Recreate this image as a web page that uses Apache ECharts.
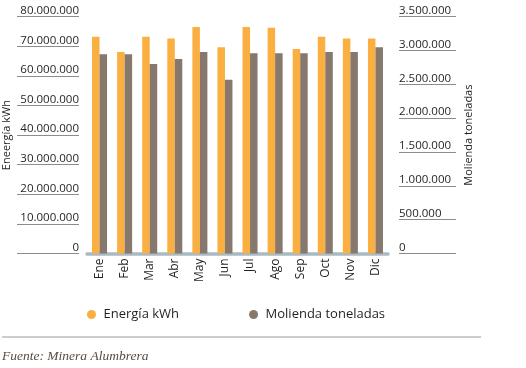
<!DOCTYPE html>
<html>
<head>
<meta charset="utf-8">
<script src="https://cdn.jsdelivr.net/npm/echarts@6/dist/echarts.min.js"></script>
<style>html,body{margin:0;padding:0;background:#fff;}#c{width:526px;height:368px;}</style>
</head>
<body>
<div id="c"></div>
<script>
const months = ['Ene','Feb','Mar','Abr','May','Jun','Jul','Ago','Sep','Oct','Nov','Dic'];
const energiaKWh = [73200000, 68100000, 73200000, 72600000, 76500000, 69700000, 76500000, 76300000, 69100000, 73200000, 72600000, 72600000];
const moliendaTon = [2944000, 2944000, 2800000, 2875000, 2978000, 2569000, 2959000, 2959000, 2959000, 2978000, 2978000, 3048000];
const seriesNames = ['Energía kWh', 'Molienda toneladas'];
const leftAxisName = 'Eneergía kWh';
const rightAxisName = 'Molienda toneladas';
const sourceNote = 'Fuente: Minera Alumbrera';

const fmt = v => String(v).replace(/\B(?=(\d{3})+(?!\d))/g, '.');
const FONT = 'Open Sans';
const TXT = '#231f20';
const chart = echarts.init(document.getElementById('c'), null, {renderer: 'canvas'});
chart.setOption({
  animation: false,
  textStyle: {fontFamily: FONT},
  grid: {left: 87, right: 138, top: 16.7, bottom: 114.5, containLabel: false, outerBoundsMode: 'none'},
  title: {
    text: sourceNote, left: 2, top: 349, padding: 0,
    textStyle: {fontFamily: 'Liberation Serif', fontStyle: 'italic', fontWeight: 'normal', fontSize: 13.5, color: '#5b4a40'}
  },
  legend: {
    data: seriesNames, top: 303, left: 82, icon: 'circle', itemWidth: 14, itemHeight: 9, itemGap: 70,
    textStyle: {fontSize: 13, color: TXT, fontFamily: FONT}
  },
  graphic: [{type: 'line', shape: {x1: 2, y1: 337, x2: 481, y2: 337}, style: {stroke: '#9a9a9a', lineWidth: 1}}],
  xAxis: {
    type: 'category', data: months,
    axisLine: {lineStyle: {color: '#a9bac2', width: 3.5}},
    axisTick: {show: false},
    axisLabel: {rotate: 90, margin: 5, fontSize: 12, color: TXT, fontFamily: FONT}
  },
  yAxis: [{
    type: 'value', position: 'left', offset: 8, min: 0, max: 80000000, interval: 10000000,
    name: leftAxisName, nameLocation: 'middle', nameRotate: 90, nameGap: 67, nameMoveOverlap: false,
    nameTextStyle: {fontSize: 11, color: TXT, fontFamily: FONT},
    axisLine: {show: false},
    axisTick: {show: true, length: 62, lineStyle: {color: '#8c8c8c', width: 1}},
    splitLine: {show: false},
    axisLabel: {formatter: fmt, margin: 0, align: 'right', verticalAlign: 'bottom', fontSize: 11.5, color: TXT, fontFamily: FONT}
  }, {
    type: 'value', position: 'right', offset: 11, min: 0, max: 3500000, interval: 500000,
    name: rightAxisName, nameLocation: 'middle', nameRotate: 90, nameGap: 64, nameMoveOverlap: false,
    nameTextStyle: {fontSize: 11, color: TXT, fontFamily: FONT},
    axisLine: {show: false},
    axisTick: {show: true, length: 57, lineStyle: {color: '#8c8c8c', width: 1}},
    splitLine: {show: false},
    axisLabel: {formatter: fmt, margin: 0, align: 'left', verticalAlign: 'bottom', fontSize: 11.5, color: TXT, fontFamily: FONT}
  }],
  series: [{
    name: seriesNames[0], type: 'bar', yAxisIndex: 0, data: energiaKWh,
    barWidth: 7.5, barGap: '0%', itemStyle: {color: '#faaf40'}
  }, {
    name: seriesNames[1], type: 'bar', yAxisIndex: 1, data: moliendaTon,
    barWidth: 7.5, barGap: '0%', itemStyle: {color: '#87786d'}
  }]
});
</script>
</body>
</html>
